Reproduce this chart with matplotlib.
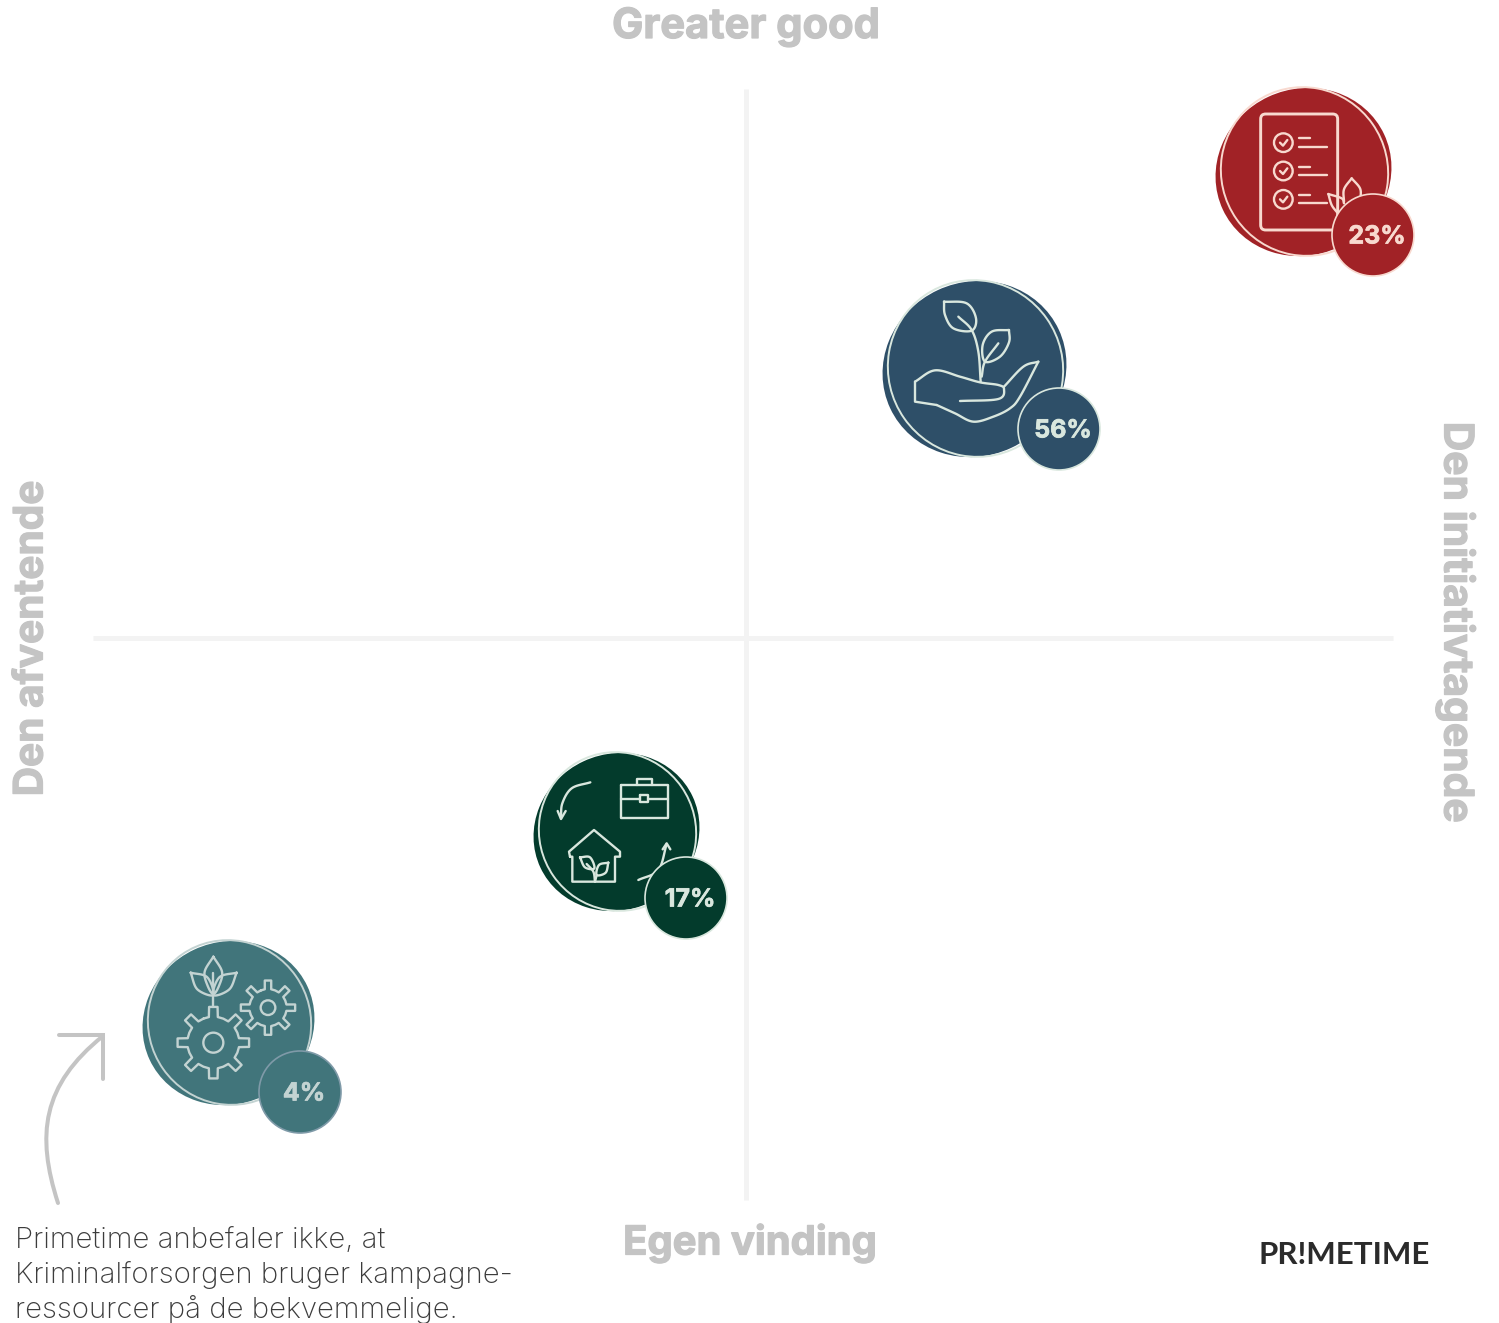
"""
Quadrant chart with four segment bubbles. Axes are in image pixels, y pointing down.
"""

import numpy as np
import matplotlib
matplotlib.use('Agg')
import matplotlib.pyplot as plt
import matplotlib.patheffects as pe
from matplotlib.patches import Circle, Ellipse, FancyBboxPatch, PathPatch
from matplotlib.path import Path

segments = ['initiativ', 'plante', 'hjem', 'gear']
bubble_x = [1304, 975, 617, 229]
bubble_y = [171, 368, 831, 1022]
bubble_r = [85, 89, 80, 83]
badge_x = [1373, 1059, 686, 300]
badge_y = [235, 429, 898, 1092]
badge_labels = ['23%', '56%', '17%', '4%']
fill_colors = ['#a12226', '#2e4f68', '#033b2c', '#41757b']
line_colors = ['#f8d9cf', '#d9e7de', '#d9e7de', '#c3d3d2']
ring_colors = ['#f8d9cf', '#d9e7de', '#d9e7de', '#7f9aa8']

GREY = '#c4c4c4'
AXIS = '#f3f3f3'
BOLD = 'Inter'
heavy = [pe.withStroke(linewidth=0.9, foreground=GREY)]

fig = plt.figure(figsize=(14.99, 13.23), dpi=100)
ax = fig.add_axes([0, 0, 1, 1])
ax.set_xlim(0, 1499)
ax.set_ylim(1323, 0)
ax.axis('off')

# quadrant cross
ax.plot([746, 746], [89, 1200], color=AXIS, lw=3.6, solid_capstyle='butt', zorder=1)
ax.plot([93, 1393], [638, 638], color=AXIS, lw=3.6, solid_capstyle='butt', zorder=1)

# axis names
ax.text(746, 27, 'Greater good', color=GREY, fontsize=30, fontweight='bold', family=BOLD, ha='center', va='center', path_effects=heavy)
ax.text(750, 1243, 'Egen vinding', color=GREY, fontsize=28.8, fontweight='bold', family=BOLD, ha='center', va='center', path_effects=heavy)
ax.text(31.5, 638.5, 'Den afventende', color=GREY, fontsize=29.2, fontweight='bold', family=BOLD, ha='center', va='center', rotation=90, path_effects=heavy)
ax.text(1456.5, 622.5, 'Den initiativtagende', color=GREY, fontsize=29.4, fontweight='bold', family=BOLD, ha='center', va='center', rotation=270, path_effects=heavy)

# note and arrow
note = ['Primetime anbefaler ikke, at', 'Kriminalforsorgen bruger kampagne-', 'ressourcer på de bekvemmelige.']
for y, line in zip([1241, 1275, 1309], note):
    ax.text(15, y, line, color='#3c3c3c', fontsize=21.2, fontweight='light', family='Inter', ha='left', va='center')

arrow = Path([(58, 1203), (36, 1135), (42, 1085), (103, 1036)], [Path.MOVETO, Path.CURVE4, Path.CURVE4, Path.CURVE4])
ax.add_patch(PathPatch(arrow, fill=False, edgecolor=GREY, lw=2.9, capstyle='round'))
ax.plot([59, 103, 103], [1035, 1035, 1079], color=GREY, lw=2.9, solid_capstyle='round', solid_joinstyle='miter')

# logo
ax.text(1344, 1255, 'PR!METIME', color='#2b2b2b', fontsize=22.5, fontweight='bold', family='Lato', ha='center', va='center')


def smooth(pts, n=12):
    # catmull-rom through the points, so icons can be given with few points
    pts = np.asarray(pts, dtype=float)
    p = np.vstack([2 * pts[0] - pts[1], pts, 2 * pts[-1] - pts[-2]])
    out = []
    for i in range(1, len(p) - 2):
        for t in np.linspace(0, 1, n, endpoint=False):
            out.append(0.5 * (2 * p[i] + (p[i + 1] - p[i - 1]) * t
                              + (2 * p[i - 1] - 5 * p[i] + 4 * p[i + 1] - p[i + 2]) * t ** 2
                              + (3 * p[i] - p[i - 1] - 3 * p[i + 1] + p[i + 2]) * t ** 3))
    out.append(p[-2])
    return np.array(out)


class Icon:
    def __init__(self, cx, cy, zc, color, lw=1.5):
        self.c = np.array([cx, cy], dtype=float)
        self.zc = np.array(zc, dtype=float)
        self.color = color
        self.lw = lw

    def to_px(self, pts):
        return self.c + (np.asarray(pts, dtype=float) - self.zc) / 3

    def line(self, pts, curved=False):
        xy = self.to_px(smooth(pts) if curved else pts)
        ax.plot(xy[:, 0], xy[:, 1], color=self.color, lw=self.lw, zorder=4,
                solid_capstyle='round', solid_joinstyle='round')

    def circle(self, z, r):
        xy = self.to_px([z])[0]
        ax.add_patch(Circle(xy, r / 3, fill=False, edgecolor=self.color, lw=self.lw, zorder=4))

    def gear(self, z, outer, root, hole, teeth=8):
        pts = []
        for k in range(teeth):
            a = 2 * np.pi * k / teeth - np.pi / 2
            w = 2 * np.pi / teeth
            for da, r in [(-0.5, root), (-0.22, root), (-0.15, outer), (0.15, outer), (0.22, root)]:
                pts.append((z[0] + r * np.cos(a + da * w), z[1] + r * np.sin(a + da * w)))
        pts.append(pts[0])
        self.line(pts)
        self.circle(z, hole)


def icon_checklist(ic):
    xy = ic.to_px([(212, 480)])[0]
    ax.add_patch(FancyBboxPatch(xy + [0, -116], 77, 116, boxstyle='round,pad=0,rounding_size=5',
                                fill=False, edgecolor=ic.color, lw=ic.lw + 0.4, zorder=4))
    for y in [218, 303, 388]:
        ic.circle((280, y), 28)
        ic.line([(270, y), (279, y + 9), (292, y - 8)])
        ic.line([(328, y - 13), (360, y - 13)])
        ic.line([(328, y + 12), (410, y + 12)])
    ic.line([(485, 325), (462, 358), (462, 395)], True)
    ic.line([(485, 325), (510, 355), (512, 385)], True)
    ic.line([(415, 372), (455, 385), (462, 400)], True)
    ic.line([(415, 372), (425, 405), (442, 428)], True)


def icon_plant(ic):
    ic.line([(300, 408), (415, 402), (432, 372), (415, 360), (360, 352), (300, 335),
             (225, 316), (165, 350)], True)
    ic.line([(165, 350), (165, 410), (230, 420)])
    ic.line([(230, 420), (285, 445), (340, 470), (400, 455), (450, 430), (480, 395), (535, 290)], True)
    ic.line([(535, 290), (490, 305), (432, 365)], True)
    ic.line([(362, 350), (355, 260), (335, 195), (295, 155)], True)
    ic.line([(252, 110), (320, 115), (348, 160), (335, 197), (280, 190), (255, 150), (252, 110)], True)
    ic.line([(447, 195), (395, 200), (368, 240), (375, 290), (420, 275), (447, 232), (447, 195)], True)
    ic.line([(365, 335), (375, 290), (415, 235)], True)


def icon_home(ic):
    ic.line([(318, 135), (460, 135), (460, 235), (318, 235), (318, 135)])
    ic.line([(365, 135), (365, 118), (410, 118), (410, 135)])
    ic.line([(318, 176), (375, 176)])
    ic.line([(400, 176), (460, 176)])
    ic.line([(375, 166), (400, 166), (400, 187), (375, 187), (375, 166)])
    ic.line([(226, 127), (170, 145), (142, 190), (138, 235)], True)
    ic.line([(128, 213), (138, 237), (152, 213)])
    ic.line([(165, 350), (162, 335), (237, 270), (315, 335), (315, 350), (300, 350),
             (300, 425), (172, 425), (172, 350), (165, 350)])
    ic.line([(240, 425), (235, 395), (215, 372)], True)
    ic.line([(195, 352), (225, 352), (238, 385), (210, 382), (195, 352)], True)
    ic.line([(280, 368), (252, 375), (245, 405), (272, 398), (280, 368)], True)
    ic.line([(240, 425), (245, 405)])
    ic.line([(370, 420), (430, 390), (455, 312)], True)
    ic.line([(443, 328), (455, 310), (466, 328)])


def icon_gears(ic):
    ic.gear((548, 338), 108, 78, 30)
    ic.gear((712, 233), 82, 56, 22)
    ic.line([(548, 230), (548, 130)])
    ic.line([(548, 80), (522, 125), (530, 165), (548, 192), (566, 165), (574, 125), (548, 80)], True)
    ic.line([(480, 128), (530, 142), (548, 195), (500, 178), (480, 128)], True)
    ic.line([(618, 128), (566, 142), (548, 195), (596, 178), (618, 128)], True)


icons = {'initiativ': (icon_checklist, (342, 303)), 'plante': (icon_plant, (345, 309)),
         'hjem': (icon_home, (306, 273)), 'gear': (icon_gears, (595, 276))}

for i, name in enumerate(segments):
    cx, cy, r = bubble_x[i], bubble_y[i], bubble_r[i]
    col, lc, rc = fill_colors[i], line_colors[i], ring_colors[i]

    # hand drawn look: fill stretched one way, outline the other
    ax.add_patch(Ellipse((cx - 0.5, cy + 1), 2 * (r + 4), 2 * (r - 2), angle=-25, facecolor=col, edgecolor='none', zorder=2))
    ax.add_patch(Ellipse((cx + 0.5, cy + 0.5), 2 * (r - 2), 2 * r, angle=-35, fill=False, edgecolor=lc if i == 3 else rc, lw=1.4, zorder=3))

    func, zc = icons[name]
    func(Icon(cx, cy, zc, lc, lw=1.7))

    bx, by = badge_x[i], badge_y[i]
    ax.add_patch(Circle((bx, by), 41, facecolor=col, edgecolor=rc, lw=1.2, zorder=5))
    ax.text(bx + 4, by + 2, badge_labels[i], color=lc, fontsize=18, fontweight='bold', family=BOLD,
            ha='center', va='center', zorder=6, path_effects=[pe.withStroke(linewidth=0.5, foreground=lc)])

plt.savefig('out.png', dpi=100)
